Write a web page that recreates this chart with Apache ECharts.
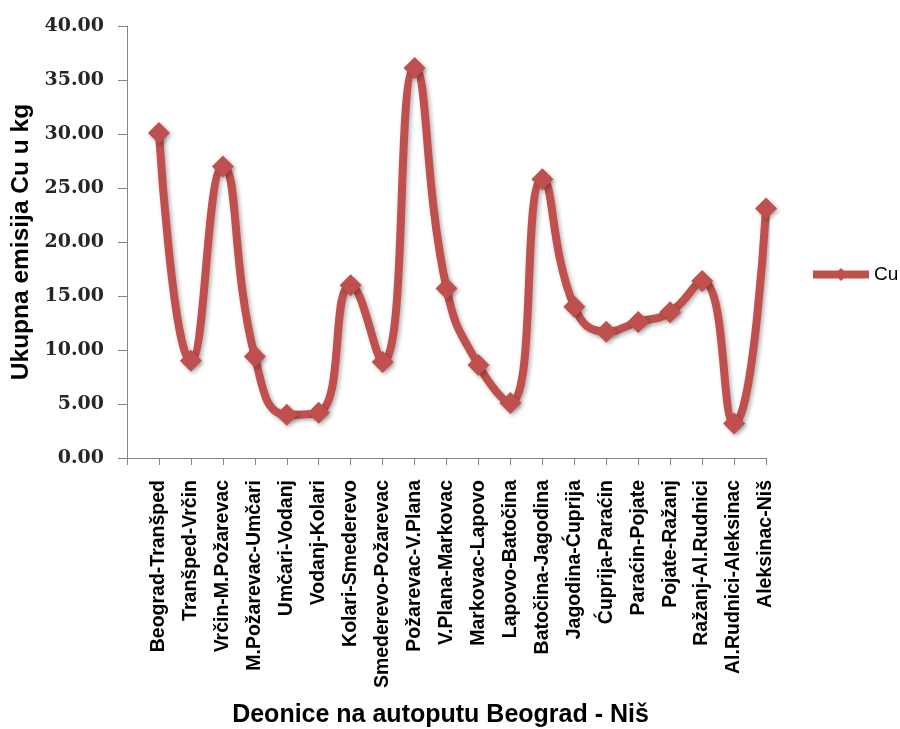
<!DOCTYPE html>
<html>
<head>
<meta charset="utf-8">
<script src="https://cdn.jsdelivr.net/npm/echarts@6/dist/echarts.min.js"></script>
<style>
html,body{margin:0;padding:0;background:#fff;}
#chart{width:900px;height:729px;}
</style>
</head>
<body>
<div id="chart"></div>
<script>
const categories = ["Beograd-Tranšped","Tranšped-Vrčin","Vrčin-M.Požarevac","M.Požarevac-Umčari","Umčari-Vodanj","Vodanj-Kolari","Kolari-Smederevo","Smederevo-Požarevac","Požarevac-V.Plana","V.Plana-Markovac","Markovac-Lapovo","Lapovo-Batočina","Batočina-Jagodina","Jagodina-Ćuprija","Ćuprija-Paraćin","Paraćin-Pojate","Pojate-Ražanj","Ražanj-Al.Rudnici","Al.Rudnici-Aleksinac","Aleksinac-Niš"];
const cuValues = [30.1, 9.0, 27.0, 9.4, 4.0, 4.2, 16.0, 8.9, 36.1, 15.7, 8.6, 5.1, 25.8, 14.0, 11.7, 12.6, 13.5, 16.4, 3.2, 23.1];
const seriesName = "Cu";
const yTicks = {min: 0, max: 40, interval: 5};
const yTitle = "Ukupna emisija Cu u kg";
const xTitle = "Deonice na autoputu Beograd - Niš";

const axisCats = [""].concat(categories);
const axisData = [null].concat(cuValues);
const red = "#C0504D";
const gray = "#868686";

const chart = echarts.init(document.getElementById('chart'), null, {renderer: 'canvas'});
chart.setOption({
  animation: false,
  backgroundColor: '#fff',
  grid: {left: 127, right: 134, top: 26, bottom: 271, containLabel: false, outerBoundsMode: 'none'},
  legend: {
    show: true, left: 804, top: 260, orient: 'vertical',
    itemWidth: 56, itemHeight: 16, itemGap: 4,
    lineStyle: {width: 8},
    textStyle: {fontFamily: 'Liberation Sans', fontSize: 19, color: '#000'},
    data: [seriesName]
  },
  xAxis: {
    type: 'category', data: axisCats, boundaryGap: false,
    axisLine: {lineStyle: {color: gray, width: 1}},
    axisTick: {show: true, interval: 0, length: 7, lineStyle: {color: gray}},
    axisLabel: {interval: 0, rotate: 90, margin: 22, fontFamily: 'Liberation Sans', fontWeight: 'bold', fontSize: 19.5, color: '#000'},
    name: xTitle, nameLocation: 'middle', nameGap: 245,
    nameTextStyle: {fontFamily: 'Liberation Sans', fontWeight: 'bold', fontSize: 25, color: '#000', padding: [0, 12, 0, 0]}
  },
  yAxis: {
    type: 'value', min: yTicks.min, max: yTicks.max, interval: yTicks.interval,
    axisLine: {show: true, lineStyle: {color: gray, width: 1}},
    axisTick: {show: true, length: 9, lineStyle: {color: gray}},
    splitLine: {show: false},
    axisLabel: {margin: 23, fontFamily: 'DejaVu Serif', fontWeight: 'bold', fontSize: 19, color: '#262626', formatter: v => v.toFixed(2)},
    name: yTitle, nameLocation: 'middle', nameGap: 92, nameRotate: 90,
    nameTextStyle: {fontFamily: 'Liberation Sans', fontWeight: 'bold', fontSize: 24.5, color: '#000'}
  },
  series: [{
    name: seriesName, type: 'line', data: axisData, smooth: 0.5,
    symbol: 'diamond', symbolSize: 22, showAllSymbol: true,
    lineStyle: {color: red, width: 8, shadowColor: 'rgba(0,0,0,0.3)', shadowBlur: 4, shadowOffsetX: 2, shadowOffsetY: 2},
    itemStyle: {color: red, shadowColor: 'rgba(0,0,0,0.3)', shadowBlur: 4, shadowOffsetX: 2, shadowOffsetY: 2}
  }]
});
</script>
</body>
</html>
